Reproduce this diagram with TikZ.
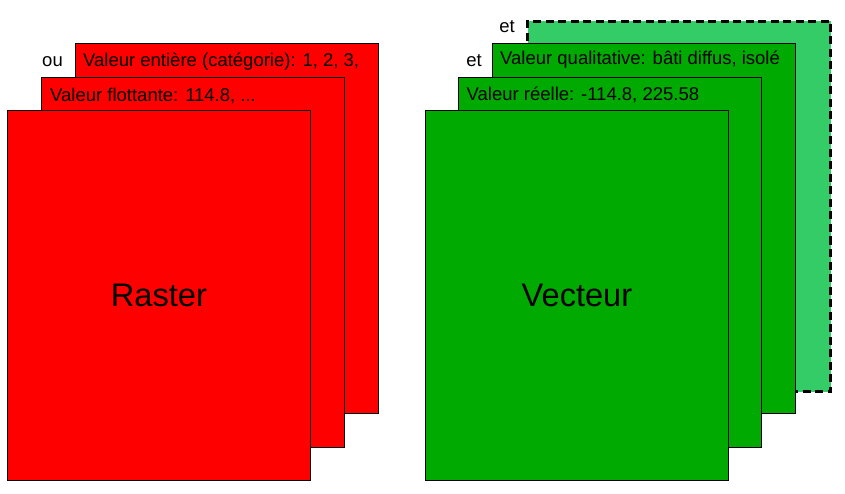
\documentclass[tikz,border=0pt]{standalone}
\usepackage{fontspec}
\setmainfont{Liberation Sans}
\usepackage{tikz}
\usetikzlibrary{positioning}

\definecolor{rasterred}{RGB}{255,0,0}
\definecolor{vecgreen}{RGB}{0,170,0}
\definecolor{lightgreen}{RGB}{51,204,102}

\begin{document}
\begin{tikzpicture}[x=1pt, y=-1pt,
    every node/.style={inner sep=0pt},
    layer/.style={draw, line width=0.9pt, minimum width=303pt, minimum height=370pt, anchor=north west},
    extralayer/.style={layer, line width=3pt, dash pattern=on 8pt off 4.5pt},
    tag/.style={font=\fontsize{18.5}{22}\selectfont, anchor=base west},
    joiner/.style={font=\fontsize{18.5}{22}\selectfont, anchor=base east},
    title/.style={font=\fontsize{32.6}{38}\selectfont}]
    \useasboundingbox (0,0) rectangle (845,494);
    % raster
    \node[layer, fill=rasterred] (rint) at (75,43) {};
    \node[layer, fill=rasterred] (rflt) at (41,77) {};
    \node[layer, fill=rasterred] (rfront) at (7,110) {};
    \node[tag] (tint) at ([xshift=8pt, yshift=-24pt]rint.north west) {Valeur entière (catégorie): 1, 2, 3,};
    \node[tag] (tflt) at ([xshift=9pt, yshift=-25pt]rflt.north west) {Valeur flottante: 114.8, ...};
    \node[joiner] (ou) at ([xshift=-12pt, yshift=-24pt]rint.north west) {ou};
    \node[title] at (rfront.center) {Raster};
    % vecteur
    \node[layer, extralayer, fill=lightgreen] (vext) at (526,20) {};
    \node[layer, fill=vecgreen] (vqual) at (492,43) {};
    \node[layer, fill=vecgreen] (vreel) at (458,77) {};
    \node[layer, fill=vecgreen] (vfront) at (425,110) {};
    \node[tag] (tqual) at ([xshift=8pt, yshift=-22pt]vqual.north west) {Valeur qualitative: bâti diffus, isolé};
    \node[tag] (treel) at ([xshift=8.5pt, yshift=-24pt]vreel.north west) {Valeur réelle: -114.8, 225.58};
    \node[joiner] (et1) at ([xshift=-11pt, yshift=-13pt]vext.north west) {et};
    \node[joiner] (et2) at ([xshift=-10pt, yshift=-24pt]vqual.north west) {et};
    \node[title] at (vfront.center) {Vecteur};
\end{tikzpicture}
\end{document}
